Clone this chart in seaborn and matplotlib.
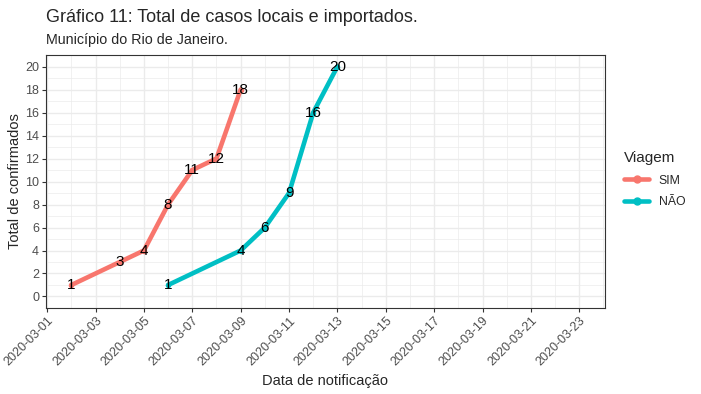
import pandas as pd
import numpy as np
import matplotlib.pyplot as plt
import seaborn as sns

# data
sim_dates = ['2020-03-02', '2020-03-04', '2020-03-05', '2020-03-06',
             '2020-03-07', '2020-03-08', '2020-03-09']
sim_values = [1, 3, 4, 8, 11, 12, 18]

nao_dates = ['2020-03-06', '2020-03-09', '2020-03-10', '2020-03-11',
             '2020-03-12', '2020-03-13']
nao_values = [1, 4, 6, 9, 16, 20]

groups = ['SIM', 'NÃO']
colors = ['#F8766D', '#00BFC4']

df = pd.concat([
    pd.DataFrame({'data': pd.to_datetime(sim_dates), 'casos': sim_values, 'Viagem': 'SIM'}),
    pd.DataFrame({'data': pd.to_datetime(nao_dates), 'casos': nao_values, 'Viagem': 'NÃO'}),
], ignore_index=True)

sns.set_style('white')
plt.rcParams['font.family'] = ['Liberation Sans', 'DejaVu Sans']

fig = plt.figure(figsize=(7.01, 3.94), dpi=100)
ax = fig.add_axes([0.0656, 0.2183, 0.797, 0.642])

sns.lineplot(data=df, x='data', y='casos', hue='Viagem', hue_order=groups,
             palette=colors, linewidth=3.3, marker='o', markersize=4,
             markeredgewidth=0, ax=ax, legend=False, zorder=3)

for x, y in zip(df['data'], df['casos']):
    ax.text(x, y, str(y), ha='center', va='center', fontsize=11,
            color='black', zorder=4)

# ticks and grid
xticks = pd.date_range('2020-03-01', '2020-03-23', freq='2D')
ax.set_xticks(xticks)
ax.set_xticklabels([d.strftime('%Y-%m-%d') for d in xticks], rotation=45,
                   ha='right', va='top', rotation_mode='anchor')
ax.set_xticks(pd.date_range('2020-03-02', '2020-03-24', freq='2D'), minor=True)
ax.set_yticks(range(0, 21, 2))
ax.set_yticks(range(1, 21, 2), minor=True)

# axis limits (ggplot-like expansion)
x0 = pd.Timestamp('2020-03-02') - pd.Timedelta(days=1.05)
x1 = pd.Timestamp('2020-03-23') + pd.Timedelta(days=1.05)
ax.set_xlim(x0, x1)
ax.set_ylim(-1, 21)

ax.grid(which='major', color='#EBEBEB', linewidth=1.0)
ax.grid(which='minor', color='#EBEBEB', linewidth=0.5)
ax.set_axisbelow(True)
for s in ax.spines.values():
    s.set_color('#333333')
    s.set_linewidth(0.8)

ax.tick_params(axis='both', which='major', length=3, width=0.8, color='#333333',
               labelsize=9, labelcolor='#4D4D4D', pad=2, left=True, bottom=True)
ax.tick_params(axis='both', which='minor', length=0)

ax.set_xlabel('Data de notificação', fontsize=10.5, labelpad=4)
ax.set_ylabel('Total de confirmados', fontsize=10.5, labelpad=2)

fig.text(0.0656, 0.955, 'Gráfico 11: Total de casos locais e importados.',
         fontsize=13, ha='left', va='center')
fig.text(0.0656, 0.898, 'Município do Rio de Janeiro.', fontsize=10.3,
         ha='left', va='center')

handles = [plt.Line2D([], [], color=c, linewidth=3.3, marker='o', markersize=5)
           for c in colors]
leg = fig.legend(handles, groups, title='Viagem', loc='upper left',
                 bbox_to_anchor=(0.875, 0.645), frameon=False, fontsize=8.8,
                 title_fontsize=11, handlelength=2.0, labelspacing=0.8)
leg._legend_box.align = 'left'

fig.savefig('out.png', dpi=100)
